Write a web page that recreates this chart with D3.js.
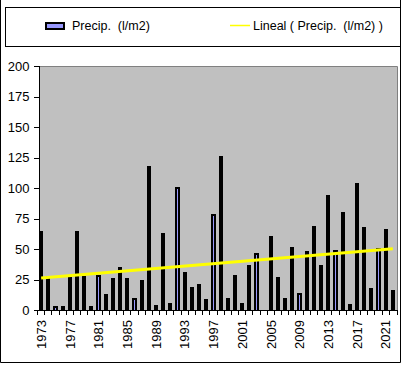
<!DOCTYPE html>
<html>
<head>
<meta charset="utf-8">
<script src="https://cdn.jsdelivr.net/npm/d3@7"></script>
<style>
  html, body { margin: 0; padding: 0; background: #fff; }
  svg { display: block; }
  text { font-family: "Liberation Sans", Arial, sans-serif; white-space: pre; }
</style>
</head>
<body>
<svg id="chart" width="402" height="365"></svg>
<script>
// ---- data ----
const years = d3.range(1973, 2023);
const precip = [65, 28, 3, 3, 28, 65, 28, 3, 29, 13,
                26, 35, 26, 10, 25, 118, 4, 63, 6, 101,
                31, 19, 21, 9, 79, 126, 10, 29, 6, 37,
                47, 0, 61, 27, 10, 52, 14, 48, 69, 37,
                94, 49, 80, 5, 104, 68, 18, 51, 66, 16];
const trendYears = [1973, 2022];
const trendValues = [26.2, 50.2];
const yTicks = [0, 25, 50, 75, 100, 125, 150, 175, 200];
const xLabelYears = [1973, 1977, 1981, 1985, 1989, 1993, 1997, 2001, 2005, 2009, 2013, 2017, 2021];
const seriesName = "Precip.  (l/m2)";
const trendName = "Lineal ( Precip.  (l/m2) )";

const svg = d3.select("#chart");
const pL = 38, pR = 397, pT = 66, pB = 310;
const cL = 37.5585, cR = 396.4585;

const xc = d3.scaleBand().domain(years).range([cL, cR]);
const x = d3.scaleBand().domain(years).range([cL, cR]).paddingInner(0.41697).paddingOuter(0.20848);
const y = d3.scaleLinear().domain([0, 200]).range([pB, pT]);

// outer frame
svg.append("path").attr("d", "M0.5,0 V362.5 H400.5 V0")
  .attr("fill", "none").attr("stroke", "#000").attr("stroke-width", 1);

// legend box
svg.append("rect").attr("x", 5.5).attr("y", 7.5).attr("width", 395).attr("height", 39)
  .attr("fill", "#fff").attr("stroke", "#000").attr("stroke-width", 1);
svg.append("rect").attr("x", 46).attr("y", 23).attr("width", 18).attr("height", 6)
  .attr("fill", "#9999FF").attr("stroke", "#000").attr("stroke-width", 2);
svg.append("text").attr("x", 72).attr("y", 30).attr("font-size", 12.5).text(seriesName);
svg.append("line").attr("x1", 230).attr("x2", 250).attr("y1", 25.5).attr("y2", 25.5)
  .attr("stroke", "#FFFF00").attr("stroke-width", 1.5);
svg.append("text").attr("x", 253).attr("y", 30).attr("font-size", 12.5).text(trendName);

// plot area
svg.append("rect").attr("x", pL + 1).attr("y", pT).attr("width", pR - pL - 1).attr("height", pB - pT)
  .attr("fill", "#C0C0C0");
svg.append("path").attr("d", `M${pL},${pT + 0.5} H${pR + 0.5} V${pB}`)
  .attr("fill", "none").attr("stroke", "#808080").attr("stroke-width", 1);

// bars
const bars = svg.append("g").attr("shape-rendering", "crispEdges");
years.forEach((yr, i) => {
  const v = precip[i];
  if (v <= 0) return;
  const x0 = Math.round(x(yr));
  const x1 = Math.round(x(yr) + x.bandwidth());
  const yt = Math.round(y(v));
  bars.append("rect").attr("x", x0).attr("y", yt).attr("width", x1 - x0).attr("height", pB - yt)
    .attr("fill", "#000");
  if (x1 - x0 > 4 && pB - yt > 3) {
    bars.append("rect").attr("x", x0 + 2).attr("y", yt + 2).attr("width", x1 - x0 - 4).attr("height", pB - yt - 2)
      .attr("fill", "#9999FF");
  }
});

// trend line
svg.append("line")
  .attr("x1", xc(trendYears[0]) + xc.bandwidth() / 2).attr("y1", y(trendValues[0]))
  .attr("x2", xc(trendYears[1]) + xc.bandwidth() / 2).attr("y2", y(trendValues[1]))
  .attr("stroke", "#FFFF00").attr("stroke-width", 3);

// y axis
const yAxis = svg.append("g").attr("transform", `translate(${pL + 0.5},0)`)
  .call(d3.axisLeft(y).tickValues(yTicks).tickSize(5).tickPadding(4));
yAxis.selectAll("path, line").attr("stroke", "#000").attr("shape-rendering", "crispEdges");
yAxis.selectAll("text").attr("font-size", 13).attr("fill", "#000")
  .style("font-family", '"Liberation Sans", Arial, sans-serif');

// x axis
const xAxis = svg.append("g").attr("transform", `translate(0,${pB + 0.5})`)
  .call(d3.axisBottom(xc).tickSize(0).tickFormat(""));
xAxis.select(".domain").attr("d", `M${pL},0H${pR + 1}`)
  .attr("stroke", "#000").attr("shape-rendering", "crispEdges");
xAxis.selectAll(".tick").remove();
const tickG = svg.append("g").attr("shape-rendering", "crispEdges");
years.concat([2023]).forEach(yr => {
  const px = yr === 2023 ? pR : xc(yr);
  tickG.append("line").attr("x1", Math.floor(px) + 0.5).attr("x2", Math.floor(px) + 0.5)
    .attr("y1", pB).attr("y2", pB + 5).attr("stroke", "#000");
});
xLabelYears.forEach(yr => {
  const cx = xc(yr) + xc.bandwidth() / 2;
  svg.append("text")
    .attr("transform", `translate(${cx},320) rotate(-90)`)
    .attr("text-anchor", "end").attr("dy", "0.36em")
    .attr("font-size", 13).attr("fill", "#000").text(String(yr));
});
</script>
</body>
</html>
